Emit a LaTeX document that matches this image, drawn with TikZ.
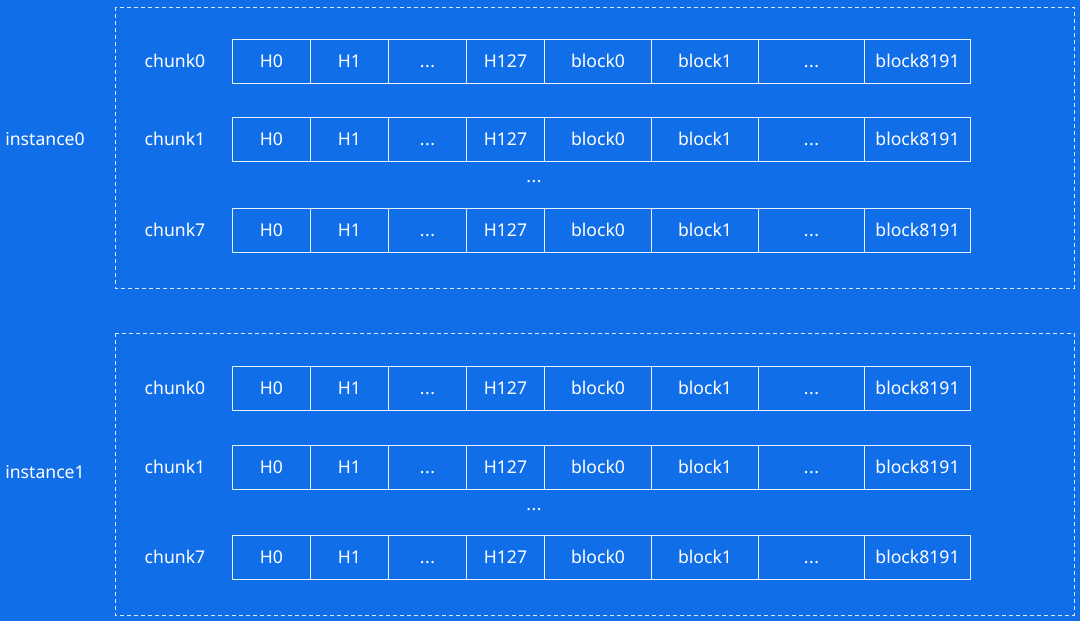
\documentclass[tikz,border=0pt]{standalone}
\usepackage{fontspec}
\setmainfont{Noto Sans}
\usepackage{xcolor}
\usetikzlibrary{positioning}
\definecolor{bgblue}{RGB}{17,110,233}
\newcommand{\threedots}{\vphantom{H0}.\kern0.5pt.\kern0.5pt.}

\begin{document}
\begin{tikzpicture}[x=1pt, y=1pt, every node/.style={font=\fontsize{17.6}{20}\selectfont, text=white},
  cell/.style={draw=white!90!bgblue, line width=1pt, minimum height=44pt, inner sep=0pt, anchor=west},
  frame/.style={draw=white!85!bgblue, dashed, dash pattern=on 4pt off 3pt, line width=1pt}]
\fill[bgblue] (0,0) rectangle (1080,-621);
% instance frames
\draw[frame] (115,-7) rectangle (1074,-288);
\draw[frame] (115,-333) rectangle (1074,-615);
\node (inst0) at (45,-139) {instance0};
\node (inst1) at (45,-472) {instance1};
% chunk rows
\foreach \i/\r/\y in {0/0/61, 0/1/139, 0/7/230, 1/0/388, 1/1/467, 1/7/557} {
  \node (lab\i\r) at (175,-\y) {chunk\r};
  \foreach \x/\w/\t [count=\k] in {232/78/H0, 310/78/H1, 388/78/\threedots, 466/78/H127,
      544/107/block0, 651/107/block1, 758/106/\threedots, 864/106/block8191}
    \node[cell, minimum width=\w pt] (c\i\r\k) at (\x,-\y) {\t};
}
\node (dots0) at (534,-176) {\threedots};
\node (dots1) at (534,-504) {\threedots};
\end{tikzpicture}
\end{document}
